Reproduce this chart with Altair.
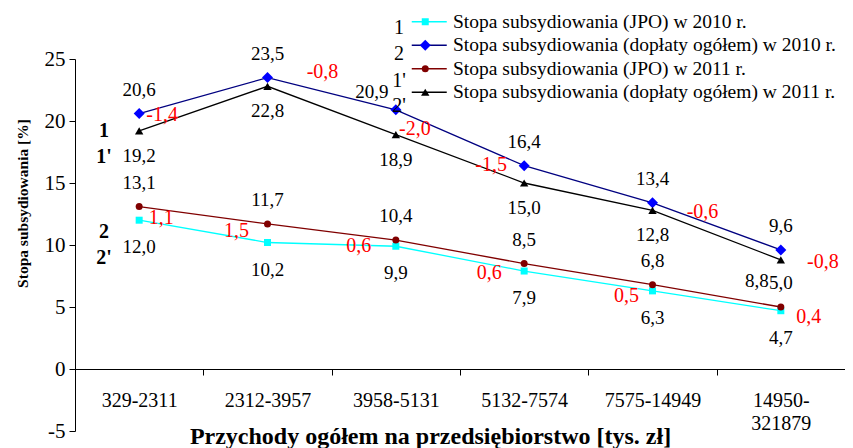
import altair as alt
import pandas as pd

# ---------------- data ----------------
categories = ["329-2311", "2312-3957", "3958-5131", "5132-7574", "7575-14949", "14950- 321879"]
series_names = [
    "Stopa subsydiowania (JPO) w 2010 r.",
    "Stopa subsydiowania (dopłaty ogółem) w 2010 r.",
    "Stopa subsydiowania (JPO) w 2011 r.",
    "Stopa subsydiowania (dopłaty ogółem) w 2011 r.",
]
jpo_2010 = [12.0, 10.2, 9.9, 7.9, 6.3, 4.7]
doplaty_2010 = [20.6, 23.5, 20.9, 16.4, 13.4, 9.6]
jpo_2011 = [13.1, 11.7, 10.4, 8.5, 6.8, 5.0]
doplaty_2011 = [19.2, 22.8, 18.9, 15.0, 12.8, 8.8]
diff_doplaty = ["-1,4", "-0,8", "-2,0", "-1,5", "-0,6", "-0,8"]
diff_jpo = ["1,1", "1,5", "0,6", "0,6", "0,5", "0,4"]
legend_numbers = ["1", "2", "1'", "2'"]
side_numbers = ["1", "1'", "2", "2'"]
y_ticks = [-5, 0, 5, 10, 15, 20, 25]

values_by_series = [jpo_2010, doplaty_2010, jpo_2011, doplaty_2011]

# ---------------- styles ----------------
FONT = "Liberation Serif, Times New Roman, DejaVu Serif, serif"
W, H = 770, 372
line_colors = ["#00FFFF", "#000080", "#800000", "#000000"]
marker_colors = ["#00FFFF", "#0000FF", "#800000", "#000000"]
marker_shapes = ["square", "diamond", "circle", "triangle-up"]
marker_sizes = [49, 121, 49, 70]

rows = []
for s, vals in zip(series_names, values_by_series):
    for i, (c, v) in enumerate(zip(categories, vals)):
        rows.append({"category": c, "series": s, "serie_line": s, "value": v, "idx": i,
                     "label": f"{v:.1f}".replace(".", ",")})
df = pd.DataFrame(rows)

x_enc = alt.X(
    "category:N", sort=categories,
    scale=alt.Scale(type="band", domain=categories, paddingInner=0, paddingOuter=0),
    bandPosition=0.5,
    axis=alt.Axis(
        title="Przychody ogółem na przedsiębiorstwo [tys. zł]",
        offset=-62, tickBand="extent", tickSize=6, labelAngle=0,
        labelFont=FONT, labelFontSize=20, labelColor="black", labelPadding=15,
        labelExpr="split(datum.label, ' ')", labelLineHeight=23,
        domainColor="black", tickColor="black", grid=False,
        titleFont=FONT, titleFontSize=24, titleFontWeight="bold", titleColor="black",
        titleX=355, titleY=67, titleBaseline="middle", titleAlign="center",
    ),
)
y_enc = alt.Y(
    "value:Q",
    scale=alt.Scale(domain=[-5, 25], nice=False, zero=False),
    axis=alt.Axis(
        values=y_ticks, grid=False, tickSize=6, labelPadding=4,
        labelFont=FONT, labelFontSize=21, labelColor="black",
        labelExpr="'' + datum.value",
        domainColor="black", tickColor="black",
        title="Stopa subsydiowania [%]", titleFont=FONT, titleFontSize=15.5,
        titleFontWeight="bold", titleColor="black",
        titleX=-53, titleY=144, titleAngle=-90, titleAlign="center", titleBaseline="middle",
    ),
)

lines = alt.Chart(df).mark_line(strokeWidth=1.3).encode(
    x=x_enc, y=y_enc,
    stroke=alt.Stroke(
        "serie_line:N", sort=series_names, scale=alt.Scale(range=line_colors),
        legend=alt.Legend(
            title=None, orient="none", legendX=344.5, legendY=-47,
            symbolType="M-3.5,0H3.5", symbolSize=100, symbolStrokeWidth=1.3,
            labelFont=FONT, labelFontSize=19.5, labelColor="black", labelOffset=14,
            rowPadding=2.5, padding=0, labelLimit=600,
        ),
    ),
    order=alt.Order("idx:Q"),
)

leg2 = alt.Legend(
    title=None, orient="none", legendX=340.5, legendY=-47,
    labelFont=FONT, labelFontSize=19.5, labelOpacity=0, labelOffset=14, labelExpr="' '",
    rowPadding=2.5, padding=0, symbolStrokeWidth=0,
)
points = alt.Chart(df).mark_point(filled=True, opacity=1, strokeWidth=0).encode(
    x=x_enc, y=y_enc,
    color=alt.Color("series:N", scale=alt.Scale(domain=series_names, range=marker_colors), legend=leg2),
    shape=alt.Shape("series:N", scale=alt.Scale(domain=series_names, range=marker_shapes), legend=leg2),
    size=alt.Size("series:N", scale=alt.Scale(type="ordinal", domain=series_names, range=marker_sizes), legend=leg2),
)

layers = [lines, points]

# value labels: default offset per series, plus a few individual shifts
value_offsets = [(0, 27), (0, -24), (0, -24), (0, 25)]
value_shifts = {(1, 2): (-24, -18), (3, 5): (-24, 21)}
for si, s in enumerate(series_names):
    sub = df[df["series"] == s]
    special = [i for (k, i) in value_shifts if k == si]
    normal = sub[~sub["idx"].isin(special)]
    dx, dy = value_offsets[si]
    layers.append(
        alt.Chart(normal).mark_text(dx=dx, dy=dy, font=FONT, fontSize=19, color="black",
                                    align="center", baseline="middle")
        .encode(x=x_enc, y=y_enc, text="label:N")
    )
    for i in special:
        sdx, sdy = value_shifts[(si, i)]
        layers.append(
            alt.Chart(sub[sub["idx"] == i]).mark_text(dx=sdx, dy=sdy, font=FONT, fontSize=19,
                                                      color="black", align="center", baseline="middle")
            .encode(x=x_enc, y=y_enc, text="label:N")
        )

# red difference labels
diff_sets = [
    (diff_doplaty, doplaty_2011, [(23, -16), (55, -14), (19, -6), (-33, -18), (50, 2), (42, 2)]),
    (diff_jpo, jpo_2010, [(22, -2), (-31, -12), (-37, 0), (-35, 2), (-26, 5), (28, 6)]),
]
for texts, anchor_vals, offs in diff_sets:
    for i, (t, v) in enumerate(zip(texts, anchor_vals)):
        d = pd.DataFrame({"category": [categories[i]], "value": [v], "label": [t]})
        dx, dy = offs[i]
        layers.append(
            alt.Chart(d).mark_text(dx=dx, dy=dy, font=FONT, fontSize=20, color="#FF0000",
                                   align="center", baseline="middle")
            .encode(x=x_enc, y=y_enc, text="label:N")
        )

# numbered annotations
legend_num_pos = [(324, -31), (324, -5), (324, 22), (324, 47)]
for t, (px, py) in zip(legend_numbers, legend_num_pos):
    layers.append(
        alt.Chart(pd.DataFrame({"t": [t]})).mark_text(font=FONT, fontSize=20, color="black",
                                                      align="center", baseline="middle")
        .encode(text="t:N", x=alt.value(px), y=alt.value(py))
    )
side_num_pos = [(29, 72), (29, 98), (29, 173), (29, 199)]
for t, (px, py) in zip(side_numbers, side_num_pos):
    layers.append(
        alt.Chart(pd.DataFrame({"t": [t]})).mark_text(font=FONT, fontSize=20, fontWeight="bold",
                                                      color="black", align="center", baseline="middle")
        .encode(text="t:N", x=alt.value(px), y=alt.value(py))
    )

chart = alt.layer(*layers).properties(
    width=W, height=H,
    padding={"left": 67, "top": 51, "right": 0, "bottom": 20},
    autosize=alt.AutoSizeParams(type="none"),
    background="white",
).configure_view(stroke=None)

chart.save("out.html", embed_options={"renderer": "svg", "actions": False})
